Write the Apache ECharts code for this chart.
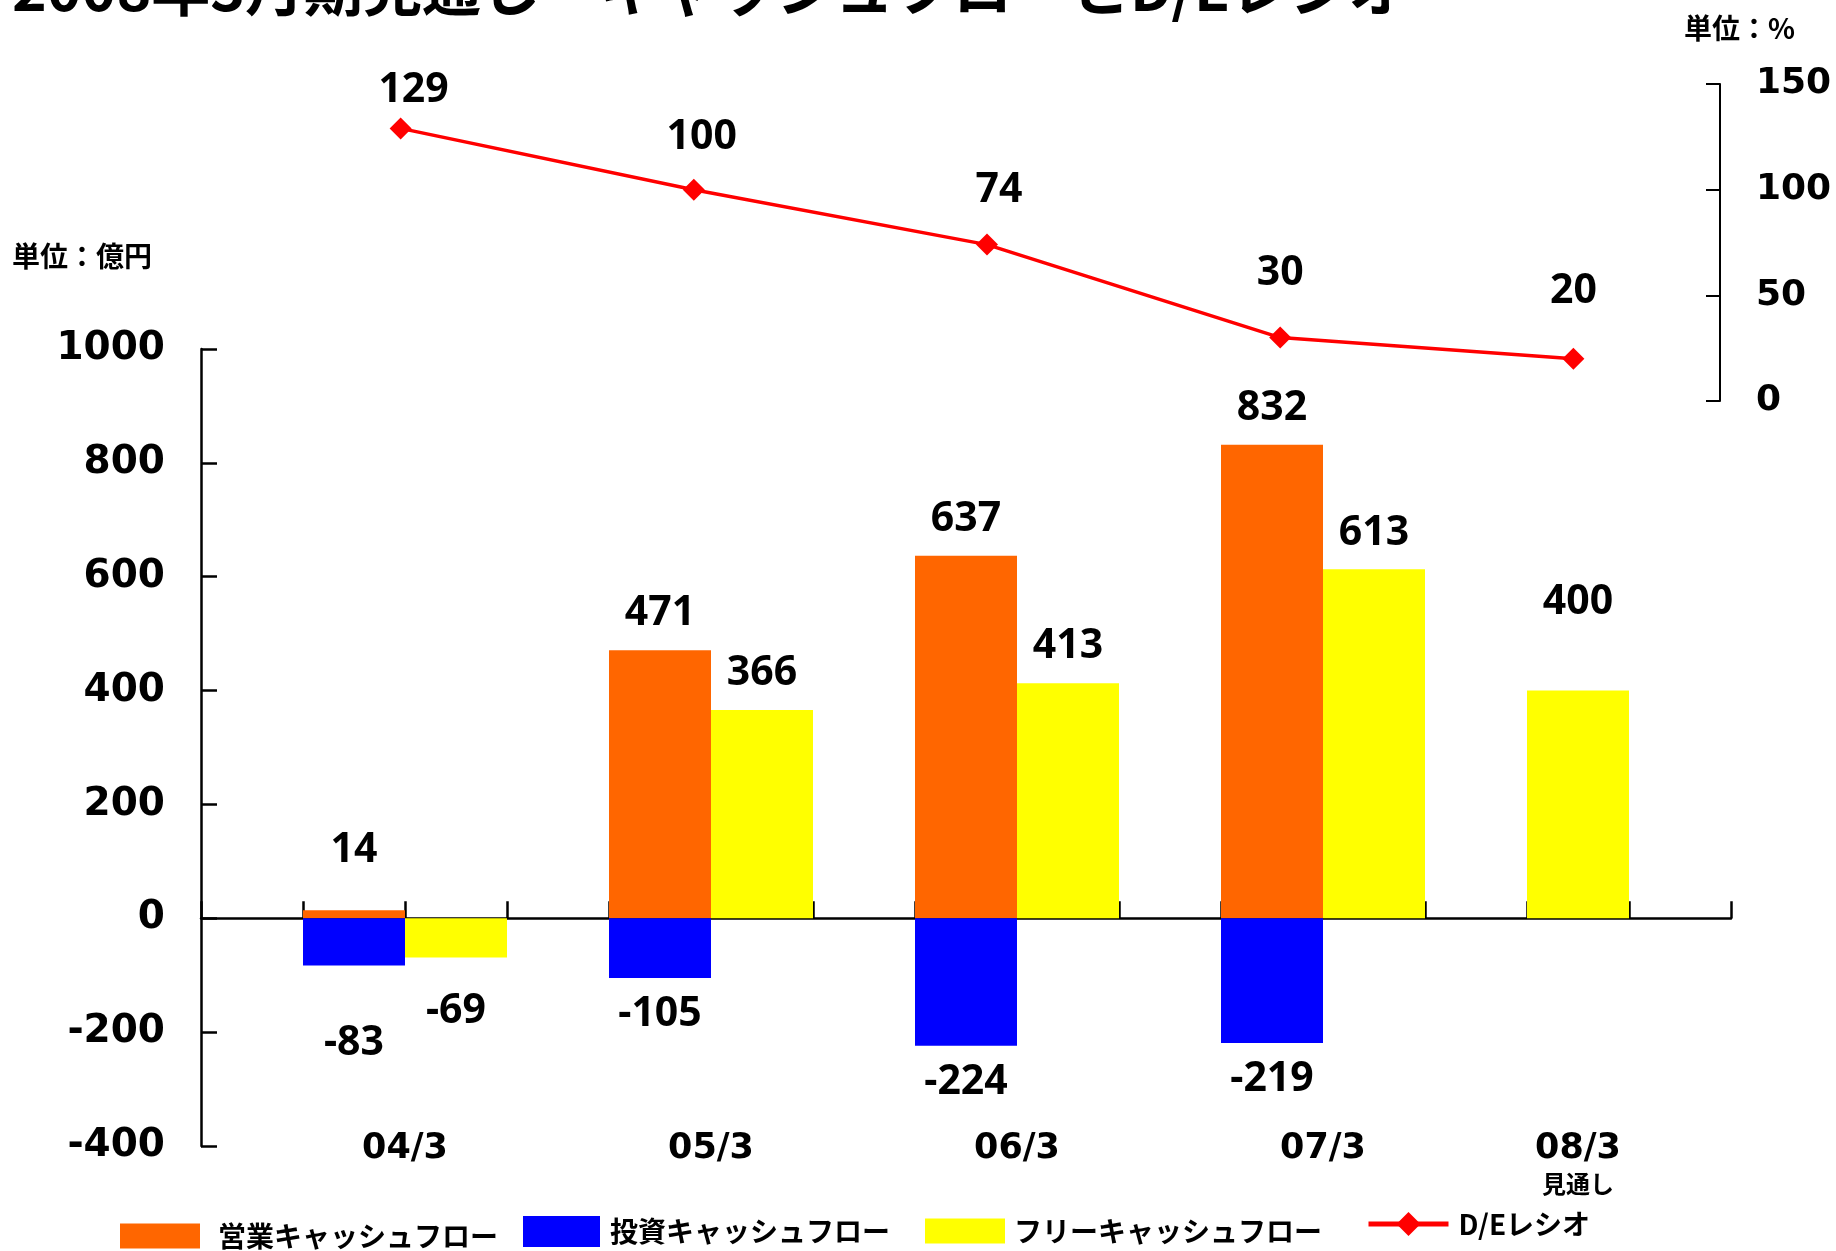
<!DOCTYPE html>
<html><head><meta charset="utf-8">
<script src="https://cdn.jsdelivr.net/npm/echarts@6/dist/echarts.min.js"></script>
<style>html,body{margin:0;padding:0;background:#fff}#c{width:1836px;height:1251px}</style>
</head><body><div id="c"></div>
<script>
// ---- data ----
const titleText = '2008年3月期見通し　キャッシュフローとD/Eレシオ';
const categories = ['04/3', '05/3', '06/3', '07/3', '08/3'];
const forecastNote = '見通し';
const forecastIndex = 4;
const operatingCF = [14, 471, 637, 832, null];
const investingCF = [-83, -105, -224, -219, null];
const freeCF = [-69, 366, 413, 613, 400];
const deRatio = [129, 100, 74, 30, 20];
const leftAxisTicks = [-400, -200, 0, 200, 400, 600, 800, 1000];
const rightAxisTicks = [0, 50, 100, 150];
const names = {op: '営業キャッシュフロー', inv: '投資キャッシュフロー', free: 'フリーキャッシュフロー', de: 'D/Eレシオ'};
const unitLeft = '単位：億円';
const unitRight = '単位：%';

// ---- style ----
const FF = "'Noto Sans', 'Noto Sans CJK JP', sans-serif";
const AF = "'DejaVu Sans', 'Noto Sans CJK JP', sans-serif";
const JF = "'Noto Sans CJK JP', sans-serif";
const C = {op: '#FF6600', inv: '#0000FF', free: '#FFFF00', de: '#FF0000'};
const barNudge = {op: {0: [0, -24]}, inv: {0: [0, 41]}, free: {0: [0, 17], 4: [0, -52]}};
const lineNudge = [[13, 16], [8, 2], [12, 0], [0, -10], [0, -13]];
const slotsPerCat = 3;

function barData(values, key, keep) {
  return values.map((v, i) => {
    if (v == null || !keep(i)) return null;
    const o = (barNudge[key] || {})[i] || [0, 0];
    return {value: v, label: {position: v < 0 ? 'bottom' : 'top', offset: o}};
  });
}
const barLabel = {show: true, distance: 16, color: '#000', fontFamily: FF, fontWeight: 'bold', fontSize: 41};
const barCommon = {type: 'bar', xAxisIndex: 0, yAxisIndex: 0, barGap: '0%', barCategoryGap: '0%', label: barLabel};

function labelPosOf(i) { return i === forecastIndex ? i * slotsPerCat + 1.5 : i * slotsPerCat + 2; }

const legendText = {fontFamily: JF, fontWeight: 'bold', fontSize: 28, color: '#000'};

const chart = echarts.init(document.getElementById('c'), null, {renderer: 'canvas'});
chart.setOption({
  animation: false,
  backgroundColor: '#fff',
  grid: [
    {left: 201, top: 349, width: 1530, height: 797},
    {left: 254, top: 84, width: 1466, height: 317}
  ],
  xAxis: [
    {type: 'category', gridIndex: 0, data: categories, show: false, position: 'bottom', axisLine: {onZero: false}},
    {type: 'value', gridIndex: 0, position: 'bottom', min: 0, max: categories.length * slotsPerCat, interval: 1,
     axisLine: {show: true, onZero: true, onZeroAxisIndex: 0, lineStyle: {color: '#000', width: 2.5}},
     axisTick: {show: true, inside: true, length: 17, lineStyle: {color: '#000', width: 2.5}},
     axisLabel: {show: false}, splitLine: {show: false}},
    {type: 'value', gridIndex: 0, position: 'bottom', min: 0, max: categories.length * slotsPerCat, interval: 0.5,
     axisLine: {show: false, onZero: false}, axisTick: {show: false}, splitLine: {show: false},
     axisLabel: {show: true, margin: -17, verticalAlign: 'top', showMinLabel: true, showMaxLabel: true,
       formatter: function (v) {
         for (let i = 0; i < categories.length; i++) {
           if (Math.abs(v - labelPosOf(i)) < 1e-6) {
             return i === forecastIndex ? '{a|' + categories[i] + '}\n{b|' + forecastNote + '}' : '{a|' + categories[i] + '}';
           }
         }
         return '';
       },
       rich: {
         a: {fontFamily: AF, fontWeight: 'bold', fontSize: 35, lineHeight: 40, color: '#000'},
         b: {fontFamily: JF, fontWeight: 'bold', fontSize: 24, lineHeight: 30, color: '#000'}
       }}},
    {type: 'category', gridIndex: 1, data: categories, show: false, position: 'bottom', axisLine: {onZero: false}}
  ],
  yAxis: [
    {type: 'value', gridIndex: 0, position: 'left', min: leftAxisTicks[0], max: leftAxisTicks[leftAxisTicks.length - 1],
     interval: leftAxisTicks[1] - leftAxisTicks[0],
     axisLine: {show: true, onZero: false, lineStyle: {color: '#000', width: 2.5}},
     axisTick: {show: true, inside: true, length: 16, lineStyle: {color: '#000', width: 2.5}},
     axisLabel: {margin: 36, color: '#000', fontFamily: AF, fontWeight: 'bold', fontSize: 39, formatter: v => String(v)},
     splitLine: {show: false}},
    {type: 'value', gridIndex: 1, position: 'right', min: rightAxisTicks[0], max: rightAxisTicks[rightAxisTicks.length - 1],
     interval: rightAxisTicks[1] - rightAxisTicks[0],
     axisLine: {show: true, onZero: false, lineStyle: {color: '#000', width: 2}},
     axisTick: {show: true, inside: true, length: 14, lineStyle: {color: '#000', width: 2}},
     axisLabel: {margin: 36, color: '#000', fontFamily: AF, fontWeight: 'bold', fontSize: 36, formatter: v => String(v)},
     splitLine: {show: false}}
  ],
  legend: [
    {data: [names.op], icon: 'rect', padding: 0, left: 120, top: 1222, itemWidth: 80, itemHeight: 25, textStyle: Object.assign({padding: [4, 0, 0, 13]}, legendText)},
    {data: [names.inv], icon: 'rect', padding: 0, left: 523, top: 1216, itemWidth: 77, itemHeight: 31, textStyle: Object.assign({padding: [10, 0, 0, 5]}, legendText)},
    {data: [names.free], icon: 'rect', padding: 0, left: 925, top: 1217, itemWidth: 80, itemHeight: 25, textStyle: Object.assign({padding: [0, 0, 0, 4]}, legendText)},
    {data: [names.de], padding: 0, left: 1366, top: 1210, itemWidth: 80, itemHeight: 30, lineStyle: {width: 5},
     textStyle: Object.assign({padding: [0, 0, 0, 5]}, legendText)}
  ],
  graphic: [
    {type: 'text', x: 12, y: -11, style: {text: titleText, fontFamily: JF, fontWeight: 'bold', fontSize: 59, fill: '#000', verticalAlign: 'middle'}},
    {type: 'text', x: 12, y: 256, style: {text: unitLeft, fontFamily: JF, fontWeight: 'bold', fontSize: 28, fill: '#000', verticalAlign: 'middle'}},
    {type: 'text', x: 1684, y: 28, style: {text: unitRight, fontFamily: JF, fontWeight: 'bold', fontSize: 28, fill: '#000', verticalAlign: 'middle'}}
  ],
  series: [
    Object.assign({}, barCommon, {name: '_slot', stack: 'slot0', data: categories.map(() => null), label: {show: false}}),
    Object.assign({}, barCommon, {name: names.op, stack: 'main', itemStyle: {color: C.op},
      data: barData(operatingCF, 'op', () => true)}),
    Object.assign({}, barCommon, {name: names.inv, stack: 'main', itemStyle: {color: C.inv},
      data: barData(investingCF, 'inv', () => true)}),
    Object.assign({}, barCommon, {name: names.free, stack: 'free', itemStyle: {color: C.free},
      data: barData(freeCF, 'free', i => i !== forecastIndex)}),
    Object.assign({}, barCommon, {name: names.free, stack: 'main', itemStyle: {color: C.free},
      data: barData(freeCF, 'free', i => i === forecastIndex)}),
    {type: 'line', name: names.de, xAxisIndex: 3, yAxisIndex: 1, z: 5,
     symbol: 'diamond', symbolSize: 22, lineStyle: {color: C.de, width: 3.5}, itemStyle: {color: C.de},
     data: deRatio.map((v, i) => ({value: v, label: {offset: lineNudge[i]}})),
     label: {show: true, position: 'top', distance: 23, color: '#000', fontFamily: FF, fontWeight: 'bold', fontSize: 41}}
  ]
});
</script></body></html>
